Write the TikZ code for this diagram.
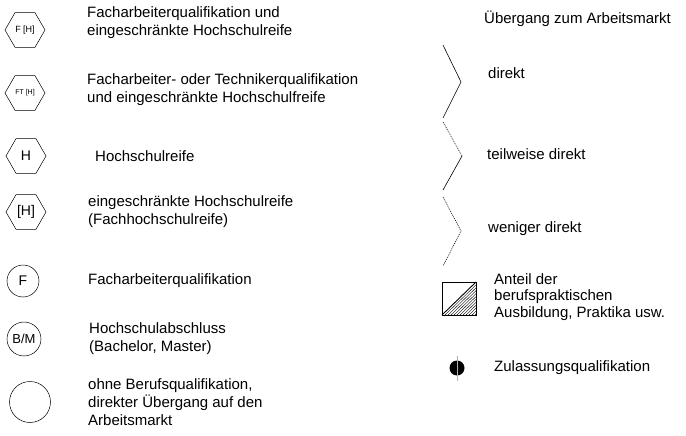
\documentclass[tikz,border=0pt]{standalone}
\usepackage{fontspec}
\setmainfont{Liberation Sans}
\usepackage{tikz}
\usetikzlibrary{shapes.geometric}

\begin{document}
\begin{tikzpicture}[x=1pt, y=-1pt,
        hexa/.style={shape=regular polygon, regular polygon sides=6, draw=black, minimum size=40pt, inner sep=0pt, line width=0.5pt},
        quali/.style={shape=circle, draw=black, inner sep=0pt, line width=0.5pt},
        legtext/.style={anchor=west, align=left, inner sep=0pt, font=\fontsize{15}{18}\selectfont},
        zigzag/.style={line width=0.6pt},
        dots/.style={line width=0.6pt, dash pattern=on 1pt off 1pt}]
        \useasboundingbox (0,0) rectangle (686,436);

        % left column: qualifications
        \node[hexa, font=\fontsize{9}{9}\selectfont] (FH) at (25,30) {F [H]};
        \node[hexa, font=\fontsize{7}{7}\selectfont] (FTH) at (25,93) {FT [H]};
        \node[hexa, font=\fontsize{14}{14}\selectfont] (H) at (26,156) {H};
        \node[hexa, font=\fontsize{14}{14}\selectfont] (HH) at (26,212) {[H]};
        \node[quali, minimum size=32pt, font=\fontsize{14}{14}\selectfont] (F) at (23,281) {F};
        \node[quali, minimum size=34pt, font=\fontsize{13}{13}\selectfont] (BM) at (24,339) {B/M};
        \node[quali, minimum size=41pt] (O) at (30,402) {};

        \node[legtext] (tFH) at (87,23) {Facharbeiterqualifikation und\\eingeschränkte Hochschulreife};
        \node[legtext] (tFTH) at (87,90) {Facharbeiter- oder Technikerqualifikation\\und eingeschränkte Hochschulfreife};
        \node[legtext] (tH) at (95,156) {Hochschulreife};
        \node[legtext] (tHH) at (88,212) {eingeschränkte Hochschulreife\\(Fachhochschulreife)};
        \node[legtext] (tF) at (88,281) {Facharbeiterqualifikation};
        \node[legtext] (tBM) at (89,339) {Hochschulabschluss\\(Bachelor, Master)};
        \node[legtext] (tO) at (88,402) {ohne Berufsqualifikation,\\direkter Übergang auf den\\Arbeitsmarkt};

        % right column: transition
        \node[legtext] (head) at (484,19) {Übergang zum Arbeitsmarkt};

        \draw[zigzag] (443,45) -- (461,82) -- (443,118);
        \draw[dots] (443,122) -- (462,156);
        \draw[zigzag] (462,156) -- (443,190);
        \draw[dots] (443,197) -- (461,231) -- (443,266);

        \node[legtext] (direkt) at (488,73) {direkt};
        \node[legtext] (teil) at (487,154) {teilweise direkt};
        \node[legtext] (wenig) at (488,229) {weniger direkt};

        % share of practical training
        \begin{scope}
            \clip (442,315) -- (476,282) -- (476,315) -- cycle;
            \foreach \d in {3,6,...,36}
                \draw[line width=0.4pt] (442+\d,315) -- (476+\d,282);
        \end{scope}
        \draw[line width=0.6pt] (442,282) rectangle (476,315);
        \draw[line width=0.9pt] (442,315) -- (476,282);
        \node[legtext, font=\fontsize{15}{16.5}\selectfont] (anteil) at (494,297) {Anteil der\\berufspraktischen\\Ausbildung, Praktika usw.};

        % admission
        \fill[black] (457,368) circle (7.5);
        \draw[gray!60, line width=0.8pt] (457,356) -- (457,381);
        \node[legtext] (zul) at (494,368) {Zulassungsqualifikation};
    \end{tikzpicture}
\end{document}
